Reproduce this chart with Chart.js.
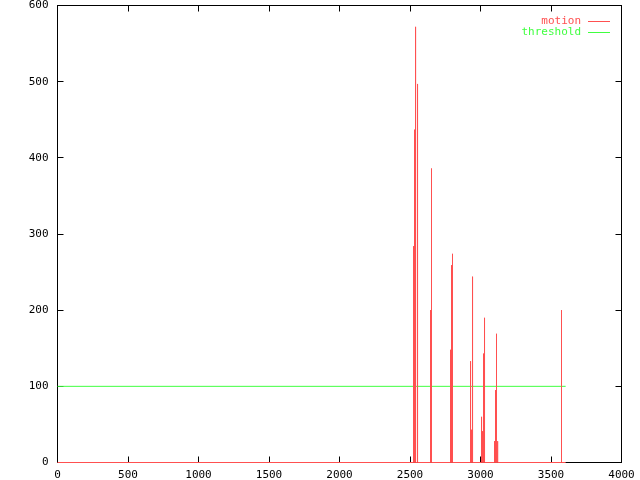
<!DOCTYPE html>
<html>
<head>
<meta charset="utf-8">
<script src="https://cdn.jsdelivr.net/npm/chart.js@4"></script>
<style>
  html, body { margin: 0; padding: 0; background: #fff; }
  #wrap { width: 640px; height: 480px; }
</style>
</head>
<body>
<div id="wrap"><canvas id="plot"></canvas></div>
<script>
// motion spikes (frame, value); motion is 0 elsewhere
const spikeX = [2525, 2532, 2539, 2553,
  2645, 2652,
  2787, 2794, 2801,
  2929, 2936, 2943,
  3007, 3014, 3021, 3028,
  3099, 3106, 3113, 3121,
  3574];
const spikeY = [284, 437, 572, 497,
  200, 386,
  148, 259, 274,
  133, 43, 244,
  60, 41, 143, 190,
  28, 95, 169, 28,
  200];
const lastFrame = 3604;

const thresholdX = [0, 3604];
const thresholdY = [100, 100];

const xTicks = [0, 500, 1000, 1500, 2000, 2500, 3000, 3500, 4000];
const yTicks = [0, 100, 200, 300, 400, 500, 600];

const red = "rgb(255,80,80)";
const green = "rgb(64,255,64)";
const font = { family: "DejaVu Sans Mono", size: 11 };

// motion series: baseline 0 with one-frame spikes
function motionPoints() {
  const out = [{ x: 0, y: 0 }];
  spikeX.forEach((x, i) => {
    out.push({ x: x - 1, y: 0 }, { x: x, y: spikeY[i] }, { x: x + 1, y: 0 });
  });
  out.push({ x: lastFrame, y: 0 });
  return out;
}

function pts(xs, ys) {
  return xs.map((x, i) => ({ x: x, y: ys[i] }));
}

// gnuplot style box with inward ticks
const frame = {
  id: "frame",
  beforeDatasetsDraw(chart) {
    const { ctx, chartArea: a, scales } = chart;
    ctx.save();
    ctx.strokeStyle = "#000";
    ctx.lineWidth = 1;
    ctx.strokeRect(a.left, a.top, a.right - a.left, a.bottom - a.top);
    ctx.beginPath();
    xTicks.forEach(v => {
      const px = Math.floor(scales.x.getPixelForValue(v)) + 0.5;
      ctx.moveTo(px, a.bottom); ctx.lineTo(px, a.bottom - 6);
      ctx.moveTo(px, a.top); ctx.lineTo(px, a.top + 6);
    });
    yTicks.forEach(v => {
      const py = Math.floor(scales.y.getPixelForValue(v)) + 0.5;
      ctx.moveTo(a.left, py); ctx.lineTo(a.left + 6, py);
      ctx.moveTo(a.right, py); ctx.lineTo(a.right - 6, py);
    });
    ctx.stroke();
    ctx.restore();
  },
  afterDraw(chart) {
    const ctx = chart.ctx;
    ctx.save();
    ctx.font = font.size + "px " + font.family;
    ctx.textAlign = "right";
    ctx.textBaseline = "middle";
    chart.data.datasets.forEach((ds, i) => {
      const y = 21.5 + i * 11;
      ctx.fillStyle = ds.borderColor;
      ctx.fillText(ds.label, 581, y);
      ctx.strokeStyle = ds.borderColor;
      ctx.lineWidth = 1;
      ctx.beginPath();
      ctx.moveTo(588, y);
      ctx.lineTo(610, y);
      ctx.stroke();
    });
    ctx.restore();
  }
};

new Chart(document.getElementById("plot"), {
  type: "line",
  data: {
    datasets: [
      {
        label: "motion",
        data: motionPoints(),
        borderColor: red,
        borderWidth: 1,
        pointRadius: 0,
        tension: 0,
        clip: false,
      },
      {
        label: "threshold",
        data: pts(thresholdX, thresholdY),
        borderColor: green,
        borderWidth: 1,
        pointRadius: 0,
        tension: 0,
        clip: false,
      },
    ],
  },
  options: {
    responsive: true,
    maintainAspectRatio: false,
    animation: false,
    layout: { padding: { top: 5.5, right: 18.5, left: 0, bottom: 0 } },
    plugins: { legend: { display: false }, tooltip: { enabled: false } },
    scales: {
      x: {
        type: "linear",
        min: 0,
        max: 4000,
        afterBuildTicks: s => { s.ticks = xTicks.map(v => ({ value: v })); },
        afterFit: s => {
          s.height = 17.5;
          s.paddingLeft = 0; s.paddingRight = 0;
        },
        grid: { display: false, drawTicks: false },
        border: { display: false },
        ticks: {
          color: "#000", font: font, padding: 6, maxRotation: 0, autoSkip: false,
          callback: v => String(v),
        },
      },
      y: {
        type: "linear",
        min: 0,
        max: 600,
        afterBuildTicks: s => { s.ticks = yTicks.map(v => ({ value: v })); },
        afterFit: s => {
          s.width = 57.5;
          s.paddingTop = 0; s.paddingBottom = 0;
        },
        grid: { display: false, drawTicks: false },
        border: { display: false },
        ticks: { color: "#000", font: font, padding: 9, callback: v => String(v) },
      },
    },
  },
  plugins: [frame],
});
</script>
</body>
</html>
